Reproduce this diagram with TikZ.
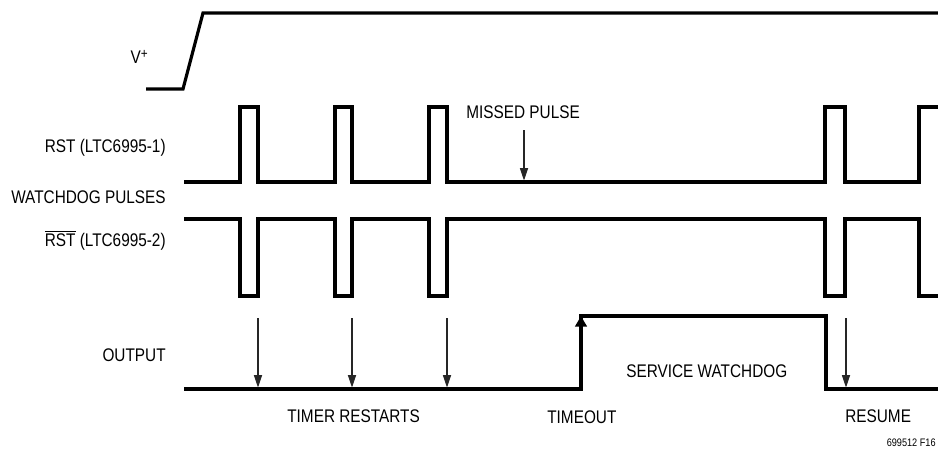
\documentclass[tikz,border=0pt]{standalone}
\usepackage{fontspec}
\setmainfont[FakeStretch=0.84]{Liberation Sans}
\usetikzlibrary{arrows.meta}

\begin{document}
\begin{tikzpicture}[x=0.02cm, y=-0.02cm,
    trace/.style={line width=1.8pt, line join=miter},
    marker/.style={line width=0.6pt, black!85, -{Triangle[length=7pt,width=4.6pt]}},
    lbl/.style={anchor=base east, inner sep=0pt, font=\fontsize{10.4}{12}\selectfont},
    note/.style={anchor=base west, inner sep=0pt, font=\fontsize{10.4}{12}\selectfont}]
\useasboundingbox (0,0) rectangle (938,453);

% Nomi dei segnali
\node[lbl] (vplus) at (148,63) {V\raisebox{0.45ex}{\fontsize{8}{9}\selectfont+}};
\node[lbl] (rstone) at (166,153) {RST (LTC6995-1)};
\node[lbl] (wdog) at (166,203.5) {WATCHDOG PULSES};
\node[lbl] (rsttwo) at (166,246.5) {$\overline{\mbox{RST}}$ (LTC6995-2)};
\node[lbl] (outname) at (166,361.5) {OUTPUT};

% Alimentazione
\draw[trace] (146,89) -- (183,89) -- (203,13) -- (945,13);

% RST (impulsi positivi)
\draw[trace] (184,182)
    \foreach \a/\b in {240/258,335/352,429/447,825/845} {
      -- (\a,182) -- (\a,107) -- (\b,107) -- (\b,182) }
    -- (919,182) -- (919,107) -- (945,107);

% RST negato (impulsi negativi)
\draw[trace] (184,219)
    \foreach \a/\b in {240/258,335/352,429/447,825/845} {
      -- (\a,219) -- (\a,296) -- (\b,296) -- (\b,219) }
    -- (919,219) -- (919,296) -- (945,296);

% Uscita
\coordinate (tmolow) at (581,389);
\coordinate (tmomid) at (581,346);
\coordinate (tmo) at (581,316);
\draw[trace] (184,389) -- (tmolow) -- (tmo) -- (826,316) -- (826,389) -- (945,389);
\draw[trace, -{Triangle[length=6pt,width=6.5pt]}] (tmomid) -- (tmo);

% Frecce
\foreach \x [count=\i] in {258,352,447} {
  \coordinate (rs\i) at (\x,318);
  \coordinate (re\i) at (\x,387.5);
  \draw[marker] (rs\i) -- (re\i);
}
\coordinate (mptop) at (524,130);
\coordinate (mpbot) at (524,180.5);
\draw[marker] (mptop) -- (mpbot);
\coordinate (rmtop) at (846,318);
\coordinate (rmbot) at (846,387.5);
\draw[marker] (rmtop) -- (rmbot);

% Etichette
\node[note] (missed) at (466,118.5) {MISSED PULSE};
\node[note] (restarts) at (287,422.5) {TIMER RESTARTS};
\node[note] (timeout) at (547,423.5) {TIMEOUT};
\node[note] (service) at (626,377.5) {SERVICE WATCHDOG};
\node[note] (resume) at (845,422.5) {RESUME};
\node[lbl, font=\fontsize{6.2}{8}\selectfont] (fig) at (936,446) {699512 F16};
\end{tikzpicture}
\end{document}
